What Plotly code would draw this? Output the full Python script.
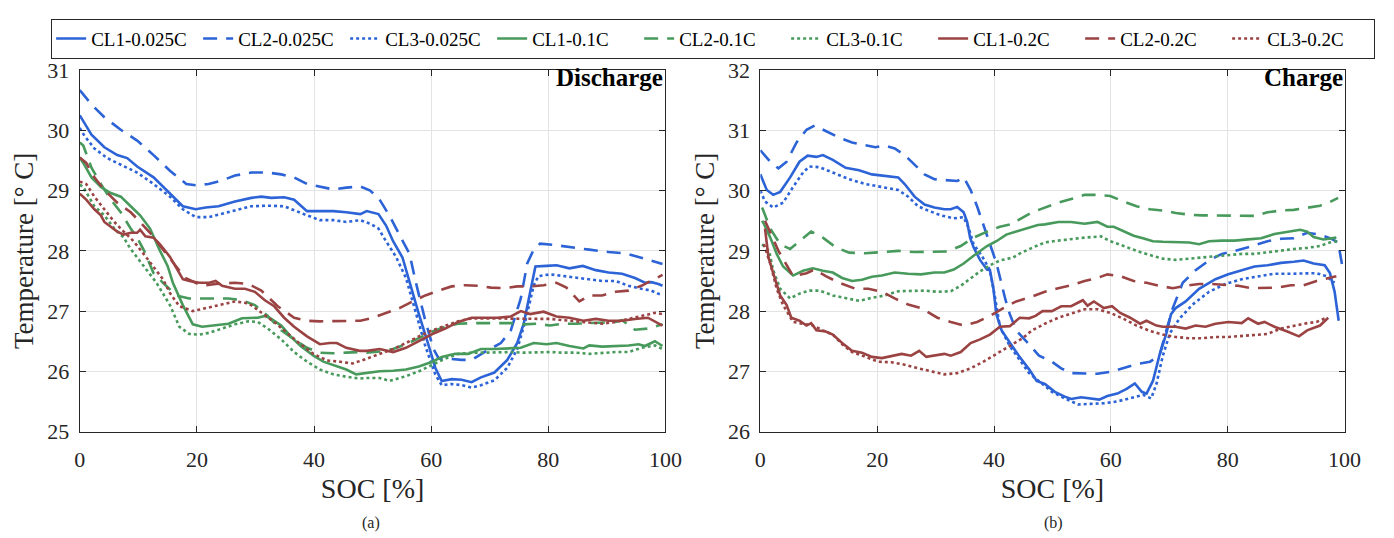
import plotly.graph_objects as go

# ---------------- Discharge (a) ----------------
d_cl1_025_soc = [0, 2, 4.2, 6.4, 8.1, 9.8, 12.6, 15.4, 17.6, 19.8, 21.5, 23.7, 26.5, 29.3, 31, 32.7, 34.9, 36.6, 38.8, 41, 43.3, 45.5, 47.9, 49, 51, 52.3, 53.5, 55.1, 56.5, 57.9, 59.6, 60.7, 61.8, 63.5, 65.2, 66.9, 68.5, 70.8, 73, 74.7, 75.8, 76.9, 77.8, 79.7, 81.4, 83.6, 85.9, 88.1, 90.3, 92.6, 94.8, 96.5, 97.6, 98.8, 99.5]
d_cl1_025_t = [30.25, 29.93, 29.72, 29.59, 29.54, 29.4, 29.22, 28.96, 28.74, 28.69, 28.72, 28.74, 28.82, 28.88, 28.9, 28.88, 28.89, 28.85, 28.66, 28.66, 28.66, 28.64, 28.61, 28.66, 28.61, 28.42, 28.16, 27.89, 27.4, 26.95, 26.42, 26.06, 25.84, 25.87, 25.86, 25.82, 25.9, 25.98, 26.19, 26.47, 26.79, 27.32, 27.74, 27.75, 27.76, 27.71, 27.75, 27.68, 27.64, 27.62, 27.55, 27.47, 27.48, 27.45, 27.42]

d_cl2_025_soc = [0, 2, 4.2, 7, 9.8, 12.6, 15.4, 18.2, 19.8, 22, 24.3, 26.5, 29.3, 32.1, 34.4, 36.6, 38.8, 41, 43.3, 45.5, 47.9, 49.6, 51.2, 52.9, 54.6, 56.3, 57.4, 59, 60.4, 61.3, 63, 65.2, 66.9, 69.1, 71.9, 73.6, 75.3, 76.4, 77.5, 78.6, 80.8, 83.6, 87, 90.3, 93.1, 95.4, 97, 98.7, 99.5]
d_cl2_025_t = [30.67, 30.43, 30.22, 30.01, 29.83, 29.59, 29.33, 29.11, 29.09, 29.11, 29.17, 29.25, 29.3, 29.3, 29.27, 29.22, 29.11, 29.06, 29.02, 29.05, 29.07, 29.0, 28.85, 28.58, 28.27, 27.95, 27.47, 26.84, 26.37, 26.21, 26.21, 26.19, 26.19, 26.32, 26.47, 26.68, 27.21, 27.79, 28.02, 28.12, 28.1, 28.06, 28.02, 27.98, 27.96, 27.9, 27.85, 27.8, 27.78]

d_cl3_025_soc = [0, 0.8, 2.5, 4.7, 7, 9.8, 12.6, 15.4, 17.6, 19.8, 22, 24.3, 26.5, 29.3, 32.1, 34.9, 36.6, 38.8, 41, 43.3, 45.5, 47.9, 49.6, 51, 52.3, 54, 55.7, 57.4, 59, 60.7, 61.8, 63.5, 65.2, 66.9, 68.5, 70.8, 73, 74.7, 76.1, 77.5, 78.3, 80.3, 82.5, 84.7, 87, 89.2, 91.5, 93.7, 95.9, 97.6, 98.7, 99.5]
d_cl3_025_t = [30.04, 29.91, 29.7, 29.54, 29.43, 29.3, 29.11, 28.9, 28.69, 28.56, 28.56, 28.61, 28.67, 28.74, 28.75, 28.74, 28.67, 28.59, 28.51, 28.51, 28.48, 28.51, 28.45, 28.37, 28.16, 27.9, 27.55, 26.95, 26.42, 25.95, 25.77, 25.79, 25.77, 25.73, 25.77, 25.85, 26.06, 26.37, 26.84, 27.42, 27.58, 27.61, 27.58, 27.55, 27.52, 27.5, 27.5, 27.42, 27.37, 27.34, 27.29, 27.27]

d_cl1_01_soc = [0, 0.6, 2, 3.6, 5.3, 7, 8.7, 10.3, 12, 13.7, 15, 15.9, 17.6, 19.3, 20.9, 23.2, 25.4, 27.7, 29.3, 30.4, 31.6, 32.7, 34.4, 36, 37.7, 39.9, 41.6, 43.3, 45.5, 47.2, 49, 51.2, 53.5, 55.7, 57.9, 60.2, 61.8, 64.1, 66.3, 68.5, 70.8, 73, 75.3, 77.5, 79.7, 81.4, 83.6, 86, 87, 89.2, 91.5, 93.7, 95.4, 96.5, 98.2, 99.5]
d_cl1_01_t = [29.55, 29.46, 29.22, 29.06, 28.96, 28.9, 28.74, 28.59, 28.37, 28.0, 27.75, 27.47, 27.1, 26.78, 26.74, 26.76, 26.79, 26.88, 26.89, 26.89, 26.92, 26.87, 26.76, 26.58, 26.42, 26.26, 26.16, 26.1, 26.03, 25.95, 25.97, 26.0, 26.01, 26.03, 26.08, 26.16, 26.24, 26.29, 26.29, 26.37, 26.37, 26.38, 26.39, 26.47, 26.45, 26.47, 26.42, 26.38, 26.43, 26.41, 26.42, 26.43, 26.45, 26.42, 26.5, 26.42]

d_cl2_01_soc = [0, 0.6, 2, 3.6, 5.3, 7, 8.7, 9.8, 11, 12.6, 14.2, 16.5, 18.7, 20.9, 23.2, 25.4, 27.7, 29.9, 32.1, 34.4, 36.6, 38.8, 41, 43.3, 45.5, 47.8, 49, 51.2, 53.5, 55.7, 57.9, 60.2, 62.4, 64.6, 66.9, 69.1, 71.3, 73.6, 75.8, 78, 80.3, 82.5, 84.7, 87, 89.2, 91.5, 92.6, 94.8, 97, 99.5]
d_cl2_01_t = [29.8, 29.75, 29.38, 29.11, 28.85, 28.64, 28.37, 28.22, 28.0, 27.63, 27.47, 27.26, 27.21, 27.21, 27.22, 27.21, 27.18, 27.1, 26.92, 26.68, 26.53, 26.39, 26.31, 26.3, 26.31, 26.32, 26.31, 26.33, 26.37, 26.45, 26.55, 26.66, 26.74, 26.79, 26.8, 26.8, 26.79, 26.8, 26.78, 26.79, 26.76, 26.79, 26.79, 26.8, 26.8, 26.82, 26.85, 26.69, 26.71, 26.78]

d_cl3_01_soc = [0, 0.6, 2.5, 4.2, 5.9, 7.5, 8.7, 10.9, 13.1, 15.4, 17, 18.7, 20.4, 22.1, 24.3, 26.5, 28.8, 30.4, 32.1, 34.4, 36.6, 38.8, 41, 43.3, 45.5, 47.8, 49, 51.2, 52.9, 55.7, 57.9, 60.2, 62.4, 64.6, 66.9, 69.1, 71.3, 73.6, 75.8, 78, 80.3, 82.5, 84.7, 87, 89.2, 91.5, 93.7, 95.9, 98.2, 99.5]
d_cl3_01_t = [29.1, 29.06, 28.74, 28.59, 28.37, 28.22, 28.03, 27.74, 27.47, 27.1, 26.74, 26.62, 26.61, 26.64, 26.71, 26.78, 26.83, 26.82, 26.71, 26.53, 26.32, 26.16, 26.03, 25.95, 25.91, 25.88, 25.89, 25.89, 25.84, 25.92, 26.0, 26.11, 26.21, 26.29, 26.31, 26.31, 26.32, 26.32, 26.31, 26.32, 26.32, 26.31, 26.31, 26.29, 26.31, 26.32, 26.32, 26.39, 26.43, 26.37]

d_cl1_02_soc = [0, 1.1, 2.5, 3.6, 4.2, 5.3, 6.4, 7.5, 8.7, 9.8, 10.3, 11.2, 12.6, 13.7, 15.4, 17.6, 18.7, 20.4, 22.1, 23.2, 24.3, 26.5, 28.2, 29.9, 31.6, 33.2, 34.9, 36.6, 38.8, 41, 42.7, 43.9, 45.5, 47.8, 49, 51.2, 53.5, 55.7, 57.9, 60.2, 62.4, 64.6, 66.9, 69.1, 71.3, 73.6, 75.3, 76.9, 79.2, 81.4, 83.6, 86, 88.1, 90.3, 92.6, 94.8, 97, 99.5]
d_cl1_02_t = [28.95, 28.85, 28.69, 28.59, 28.48, 28.4, 28.32, 28.27, 28.3, 28.3, 28.35, 28.24, 28.22, 28.11, 27.9, 27.53, 27.5, 27.47, 27.47, 27.5, 27.42, 27.37, 27.37, 27.32, 27.18, 27.08, 26.89, 26.74, 26.58, 26.45, 26.47, 26.47, 26.39, 26.34, 26.34, 26.37, 26.32, 26.39, 26.5, 26.62, 26.71, 26.82, 26.89, 26.89, 26.89, 26.91, 27.0, 26.95, 26.99, 26.91, 26.89, 26.84, 26.87, 26.84, 26.84, 26.87, 26.89, 26.76]

d_cl2_02_soc = [0, 1.1, 2.5, 4.2, 6.4, 8.7, 10.3, 12, 14, 16, 18, 20.9, 23.2, 26.5, 28.8, 31, 33.8, 36.6, 38.8, 41, 43.3, 45.5, 47.9, 50.1, 52.3, 54.6, 56.8, 59, 61.3, 63.5, 65.8, 68, 70.2, 72.5, 74.7, 76.9, 79.2, 81.4, 83.1, 85.3, 87, 89.2, 91.5, 93.7, 95.9, 98.2, 99.5]
d_cl2_02_t = [29.55, 29.46, 29.22, 29.01, 28.8, 28.64, 28.48, 28.3, 28.05, 27.8, 27.55, 27.42, 27.45, 27.47, 27.45, 27.34, 27.08, 26.89, 26.84, 26.83, 26.83, 26.84, 26.84, 26.89, 26.97, 27.05, 27.16, 27.26, 27.34, 27.41, 27.43, 27.42, 27.39, 27.38, 27.41, 27.41, 27.43, 27.47, 27.39, 27.16, 27.26, 27.26, 27.32, 27.34, 27.42, 27.53, 27.6]

d_cl3_02_soc = [0, 1.1, 2.5, 4.2, 5.9, 7.5, 9.2, 10.9, 12.6, 14.2, 15.4, 17, 19.3, 21.5, 23.7, 26.5, 28.8, 31, 33.2, 35.5, 37.7, 39.9, 42.2, 44.4, 46.6, 49, 51.2, 53.5, 55.7, 57.9, 60.2, 62.4, 64.6, 66.9, 69.1, 71.3, 73.6, 75.8, 78, 80.3, 82.5, 84.7, 87, 89.2, 91.5, 93.7, 95.9, 98.2, 99.5]
d_cl3_02_t = [29.15, 29.11, 28.9, 28.69, 28.48, 28.32, 28.16, 27.95, 27.74, 27.53, 27.3, 27.08, 27.0, 27.05, 27.1, 27.16, 27.13, 26.97, 26.82, 26.63, 26.45, 26.29, 26.18, 26.16, 26.13, 26.21, 26.29, 26.37, 26.47, 26.58, 26.68, 26.76, 26.83, 26.88, 26.88, 26.87, 26.88, 26.88, 26.87, 26.87, 26.85, 26.83, 26.82, 26.79, 26.82, 26.87, 26.92, 26.97, 26.95]

# ---------------- Charge (b) ----------------
c_cl1_025_soc = [0, 1.1, 2.2, 3.4, 5.1, 6.7, 8.1, 9.6, 10.7, 12.4, 14.6, 16.9, 19.1, 20.8, 23.6, 24.7, 26.4, 28.1, 29.8, 31.5, 32.6, 33.7, 34.8, 35.4, 35.9, 36.5, 37.6, 38.8, 39.3, 39.9, 40.4, 41.3, 42.7, 44.3, 46.1, 47.3, 48.7, 50.4, 52.1, 53.2, 54.9, 56.6, 58, 59.4, 61.1, 62.7, 64.1, 65.3, 66.1, 67.2, 68.3, 69.5, 70.3, 71.1, 72.8, 75.1, 77.9, 80.1, 82.4, 84.6, 86.8, 89.1, 91.3, 93, 94.7, 96.6, 97.5, 98.3, 99]
c_cl1_025_t = [30.27, 30.01, 29.93, 29.98, 30.22, 30.48, 30.58, 30.56, 30.59, 30.51, 30.38, 30.34, 30.27, 30.25, 30.22, 30.11, 29.9, 29.77, 29.72, 29.69, 29.69, 29.73, 29.64, 29.48, 29.22, 29.06, 28.85, 28.69, 28.68, 28.37, 27.95, 27.68, 27.47, 27.25, 27.02, 26.84, 26.79, 26.66, 26.58, 26.54, 26.57, 26.55, 26.53, 26.59, 26.63, 26.71, 26.8, 26.66, 26.63, 26.84, 27.26, 27.63, 27.95, 28.05, 28.16, 28.37, 28.53, 28.61, 28.68, 28.74, 28.76, 28.8, 28.82, 28.84, 28.79, 28.76, 28.63, 28.32, 27.84]

c_cl2_025_soc = [0, 1.7, 3.1, 4.5, 6.2, 7.9, 9.3, 11.2, 13.5, 15.7, 18, 19.7, 21.3, 23, 24.7, 26.4, 28.1, 29.8, 32, 33.7, 34.8, 36, 37.1, 38.2, 39.3, 40.4, 41.3, 41.9, 42.7, 43.8, 46, 47.7, 49.9, 51.5, 53.2, 55.5, 57.7, 59.9, 62.2, 64.4, 66.7, 68.3, 69.5, 70.6, 72.3, 74.5, 76.8, 79, 81.2, 83.5, 86.8, 89.1, 91.3, 93.6, 95.8, 97.5, 98.9, 99.7]
c_cl2_025_t = [30.67, 30.48, 30.37, 30.48, 30.8, 31.01, 31.08, 30.99, 30.88, 30.8, 30.75, 30.72, 30.75, 30.7, 30.59, 30.43, 30.27, 30.19, 30.17, 30.16, 30.22, 30.01, 29.74, 29.43, 29.11, 28.8, 28.45, 28.21, 27.95, 27.68, 27.45, 27.26, 27.16, 27.05, 26.97, 26.96, 26.96, 26.99, 27.05, 27.12, 27.16, 27.26, 27.68, 28.05, 28.47, 28.68, 28.84, 28.95, 29.0, 29.06, 29.16, 29.2, 29.21, 29.3, 29.27, 29.21, 29.14, 28.7]

c_cl3_025_soc = [0, 0.8, 2.2, 3.9, 5.6, 7.3, 8.4, 10.1, 12.4, 15.2, 18, 20.8, 23.6, 25.3, 27, 28.7, 30.9, 33.1, 34.8, 35.7, 36.5, 37.9, 39.3, 40.2, 41, 42.7, 44.3, 46, 48.3, 49.9, 52.1, 54.4, 56.6, 58.8, 61.1, 63.3, 65.5, 66.9, 67.8, 68.9, 70.1, 71.7, 74, 76.8, 79.6, 82.4, 85.2, 88, 90.8, 93.6, 95.2, 96.9, 98.3]
c_cl3_025_t = [30.0, 29.82, 29.72, 29.8, 30.06, 30.3, 30.4, 30.39, 30.3, 30.19, 30.11, 30.06, 30.01, 29.9, 29.74, 29.67, 29.59, 29.54, 29.56, 29.37, 29.11, 28.92, 28.68, 28.21, 27.74, 27.42, 27.21, 26.97, 26.79, 26.66, 26.55, 26.45, 26.46, 26.47, 26.5, 26.55, 26.61, 26.55, 26.79, 27.26, 27.63, 27.87, 28.11, 28.32, 28.45, 28.53, 28.58, 28.62, 28.62, 28.63, 28.63, 28.58, 28.47]

c_cl1_01_soc = [0.3, 0.6, 1.7, 2.8, 3.9, 5.6, 7.3, 9, 10.7, 12.4, 14, 15.7, 17.4, 19.1, 20.8, 23, 25.3, 27.5, 29.8, 31.5, 33.1, 34.8, 36.5, 38.8, 40.4, 42.1, 43.8, 45.5, 47.5, 48.7, 51, 53.2, 55.5, 57.7, 59.4, 60.5, 62.2, 63.9, 65.5, 67.2, 68.9, 71.1, 73.4, 75.1, 76.8, 79, 81.2, 83.5, 85.7, 88, 90.2, 92.4, 93.6, 94.7, 96.4, 98.6]
c_cl1_01_t = [29.5, 29.45, 29.22, 28.95, 28.74, 28.59, 28.67, 28.71, 28.67, 28.64, 28.55, 28.5, 28.52, 28.57, 28.59, 28.64, 28.62, 28.61, 28.64, 28.64, 28.69, 28.79, 28.92, 29.08, 29.16, 29.27, 29.32, 29.37, 29.43, 29.44, 29.48, 29.48, 29.45, 29.48, 29.4, 29.4, 29.32, 29.25, 29.21, 29.16, 29.15, 29.15, 29.14, 29.11, 29.16, 29.17, 29.17, 29.19, 29.21, 29.28, 29.32, 29.35, 29.32, 29.23, 29.19, 29.22]

c_cl2_01_soc = [0.3, 1.7, 3.4, 5.1, 6.7, 8.7, 10.7, 12.9, 15.2, 18, 20.8, 23.6, 26.4, 29.2, 32, 34.3, 36.5, 38.8, 41, 43.3, 44.3, 46.5, 48.7, 51, 53.2, 55.5, 57.7, 59.9, 62.2, 64.4, 66.7, 68.9, 71.1, 73.4, 75.6, 77.9, 80.1, 82.4, 84.6, 86.8, 89.1, 91.3, 93.6, 95.8, 97.5, 98.9]
c_cl2_01_t = [29.72, 29.37, 29.11, 29.03, 29.16, 29.32, 29.22, 29.06, 28.97, 28.96, 28.98, 29.0, 28.98, 28.98, 28.99, 29.08, 29.22, 29.32, 29.4, 29.45, 29.52, 29.64, 29.72, 29.8, 29.86, 29.93, 29.93, 29.91, 29.82, 29.74, 29.69, 29.67, 29.63, 29.6, 29.59, 29.59, 29.59, 29.58, 29.58, 29.64, 29.67, 29.68, 29.72, 29.75, 29.81, 29.88]

c_cl3_01_soc = [0.3, 1.5, 2.2, 3.4, 5.1, 6.7, 8.4, 10.1, 12.4, 14.6, 16.9, 19.1, 21.3, 23.6, 25.8, 28.1, 30.3, 32.6, 34.3, 36, 37.6, 39.3, 41, 43.3, 44.3, 46.5, 48.7, 51, 53.2, 55.5, 58.3, 59.9, 62.2, 64.4, 66.7, 68.9, 71.1, 73.4, 75.6, 77.9, 80.1, 82.4, 84.6, 86.8, 89.1, 91.3, 93.6, 95.8, 97.5, 98.9]
c_cl3_01_t = [29.11, 29.0, 28.68, 28.37, 28.21, 28.29, 28.34, 28.34, 28.26, 28.21, 28.17, 28.22, 28.26, 28.33, 28.34, 28.34, 28.32, 28.33, 28.42, 28.55, 28.66, 28.76, 28.84, 28.89, 28.95, 29.05, 29.14, 29.17, 29.2, 29.22, 29.24, 29.16, 29.08, 29.0, 28.93, 28.87, 28.85, 28.87, 28.9, 28.91, 28.93, 28.95, 28.95, 28.98, 29.0, 29.03, 29.05, 29.08, 29.14, 29.16]

c_cl1_02_soc = [0.8, 1.4, 2.2, 3.4, 4.5, 5.3, 6.7, 7.9, 8.7, 9.6, 11.2, 12.4, 14, 15.7, 17.4, 19.1, 20.8, 22.5, 24.2, 25.8, 27.2, 28.4, 29.8, 31.5, 32.6, 34.3, 36, 37.6, 39.3, 41, 42.7, 44.4, 46, 47.1, 48.3, 49.9, 51.5, 53.2, 55.2, 56, 57.1, 58.8, 60.2, 61.6, 63.3, 65, 66.1, 67.8, 68.9, 71.1, 72.8, 74.5, 76.2, 77.9, 80.1, 82.4, 83.5, 85.2, 86.3, 88, 90.2, 92.2, 93.6, 95.8, 97.2]
c_cl1_02_t = [29.37, 28.89, 28.63, 28.26, 28.1, 27.89, 27.84, 27.76, 27.8, 27.68, 27.66, 27.61, 27.47, 27.34, 27.31, 27.24, 27.22, 27.26, 27.29, 27.26, 27.34, 27.24, 27.26, 27.29, 27.26, 27.32, 27.47, 27.53, 27.61, 27.74, 27.75, 27.89, 27.88, 27.92, 28.0, 28.0, 28.08, 28.08, 28.18, 28.09, 28.16, 28.05, 28.08, 27.97, 27.89, 27.79, 27.84, 27.76, 27.74, 27.74, 27.71, 27.76, 27.74, 27.79, 27.82, 27.8, 27.88, 27.79, 27.82, 27.74, 27.66, 27.58, 27.68, 27.76, 27.89]

c_cl2_02_soc = [0.8, 3.1, 5.6, 7.9, 9.3, 11.2, 13.5, 16.3, 18.5, 20.8, 23, 25.3, 27.5, 30.3, 32.6, 34.8, 37.1, 39.3, 41.6, 43.8, 46.5, 48.7, 51, 53.2, 55.5, 57.7, 59.4, 61.6, 63.9, 66.1, 68.3, 70.6, 72.8, 75.1, 77.3, 79.6, 81.8, 84.1, 86.3, 88.5, 90.8, 93, 95.2, 97.5, 98.6]
c_cl2_02_t = [29.5, 29.0, 28.58, 28.63, 28.69, 28.58, 28.47, 28.37, 28.37, 28.32, 28.21, 28.11, 28.05, 27.89, 27.82, 27.76, 27.82, 27.92, 28.05, 28.16, 28.24, 28.32, 28.38, 28.43, 28.5, 28.55, 28.61, 28.58, 28.5, 28.47, 28.42, 28.38, 28.42, 28.45, 28.45, 28.43, 28.42, 28.38, 28.38, 28.39, 28.43, 28.43, 28.5, 28.55, 28.58]

c_cl3_02_soc = [0.6, 1.7, 2.8, 3.9, 5.6, 7.3, 9, 10.7, 12.4, 14, 15.7, 18, 20.2, 22.5, 24.7, 27, 29.2, 31.5, 33.7, 36, 38.2, 40.4, 42.7, 44.9, 46.5, 48.7, 51, 53.2, 55.5, 57.7, 59.9, 62.2, 64.4, 66.7, 68.9, 71.1, 73.4, 75.6, 77.9, 80.1, 82.4, 84.6, 86.8, 89.1, 91.3, 93.6, 95.2, 96.9]
c_cl3_02_t = [29.11, 28.79, 28.37, 28.1, 27.82, 27.79, 27.76, 27.68, 27.61, 27.45, 27.32, 27.24, 27.16, 27.15, 27.11, 27.05, 27.0, 26.95, 26.97, 27.05, 27.16, 27.29, 27.42, 27.55, 27.68, 27.79, 27.89, 27.96, 28.03, 28.03, 27.97, 27.87, 27.76, 27.67, 27.61, 27.57, 27.55, 27.55, 27.57, 27.57, 27.59, 27.61, 27.62, 27.71, 27.76, 27.8, 27.82, 27.89]

series_names = ["CL1-0.025C", "CL2-0.025C", "CL3-0.025C",
                "CL1-0.1C", "CL2-0.1C", "CL3-0.1C",
                "CL1-0.2C", "CL2-0.2C", "CL3-0.2C"]

discharge = [(d_cl1_025_soc, d_cl1_025_t), (d_cl2_025_soc, d_cl2_025_t), (d_cl3_025_soc, d_cl3_025_t),
             (d_cl1_01_soc, d_cl1_01_t), (d_cl2_01_soc, d_cl2_01_t), (d_cl3_01_soc, d_cl3_01_t),
             (d_cl1_02_soc, d_cl1_02_t), (d_cl2_02_soc, d_cl2_02_t), (d_cl3_02_soc, d_cl3_02_t)]
charge = [(c_cl1_025_soc, c_cl1_025_t), (c_cl2_025_soc, c_cl2_025_t), (c_cl3_025_soc, c_cl3_025_t),
          (c_cl1_01_soc, c_cl1_01_t), (c_cl2_01_soc, c_cl2_01_t), (c_cl3_01_soc, c_cl3_01_t),
          (c_cl1_02_soc, c_cl1_02_t), (c_cl2_02_soc, c_cl2_02_t), (c_cl3_02_soc, c_cl3_02_t)]

BLUE = "#2C63D6"
GREEN = "#479A5B"
RED = "#9B4343"
colors = [BLUE] * 3 + [GREEN] * 3 + [RED] * 3
dashes = ["solid", "14px,9px", "3px,3px"] * 3

FONT = "Liberation Serif"
AX = "#262626"

fig = go.Figure()
for i, name in enumerate(series_names):
    x, y = discharge[i]
    fig.add_trace(go.Scatter(x=x, y=y, mode="lines", name=name, legendgroup=name,
                             line=dict(color=colors[i], width=2.6, dash=dashes[i]),
                             xaxis="x", yaxis="y"))
for i, name in enumerate(series_names):
    x, y = charge[i]
    fig.add_trace(go.Scatter(x=x, y=y, mode="lines", name=name, legendgroup=name, showlegend=False,
                             line=dict(color=colors[i], width=2.6, dash=dashes[i]),
                             xaxis="x2", yaxis="y2"))

def xax(domain, anchor):
    return dict(domain=domain, anchor=anchor, range=[0, 100], tickvals=[0, 20, 40, 60, 80, 100],
                ticks="inside", ticklen=6, tickcolor=AX, mirror="allticks", showline=True,
                linecolor=AX, linewidth=1, showgrid=True, gridcolor="#E3E3E3", zeroline=False,
                tickfont=dict(family=FONT, size=22, color=AX), ticklabelstandoff=8,
                title=dict(text="SOC [%]", font=dict(family=FONT, size=28, color=AX), standoff=7))

def yax(domain, anchor, rng):
    return dict(domain=domain, anchor=anchor, range=rng, dtick=1,
                ticks="inside", ticklen=6, tickcolor=AX, mirror="allticks", showline=True,
                linecolor=AX, linewidth=1, showgrid=True, gridcolor="#E3E3E3", zeroline=False,
                tickfont=dict(family=FONT, size=22, color=AX), ticklabelstandoff=5,
                title=dict(text="Temperature [° C]", font=dict(family=FONT, size=27, color=AX), standoff=5))

ydom = [98 / 538, 477 / 538]
fig.update_layout(
    width=1394, height=538,
    margin=dict(l=0, r=0, t=0, b=0),
    paper_bgcolor="white", plot_bgcolor="white",
    xaxis=xax([75 / 1394, 670.5 / 1394], "y"),
    yaxis=yax(ydom, "x", [25, 31]),
    xaxis2=xax([767 / 1394, 1361 / 1394], "y2"),
    yaxis2=yax(ydom, "x2", [26, 32]),
    showlegend=True,
    legend=dict(orientation="h", x=719 / 1394, xanchor="center", y=1 - 7 / 538, yanchor="top",
                bordercolor=AX, borderwidth=1, bgcolor="white",
                font=dict(family=FONT, size=19, color="black"),
                entrywidth=102, entrywidthmode="pixels", tracegroupgap=0),
    annotations=[
        dict(text="<b>Discharge</b>", x=100, y=31, xref="x", yref="y", xanchor="right", yanchor="top",
             showarrow=False, yshift=8, font=dict(family=FONT, size=25, color="black")),
        dict(text="<b>Charge</b>", x=100, y=32, xref="x2", yref="y2", xanchor="right", yanchor="top",
             showarrow=False, yshift=8, font=dict(family=FONT, size=25, color="black")),
        dict(text="(a)", x=371 / 1394, y=1 - 522 / 538, xref="paper", yref="paper",
             xanchor="center", yanchor="middle", showarrow=False, yshift=-13,
             font=dict(family=FONT, size=16, color=AX)),
        dict(text="(b)", x=1065 / 1394, y=1 - 522 / 538, xref="paper", yref="paper",
             xanchor="center", yanchor="middle", showarrow=False, yshift=-13,
             font=dict(family=FONT, size=16, color=AX)),
    ],
)

fig.write_html("out.html")
